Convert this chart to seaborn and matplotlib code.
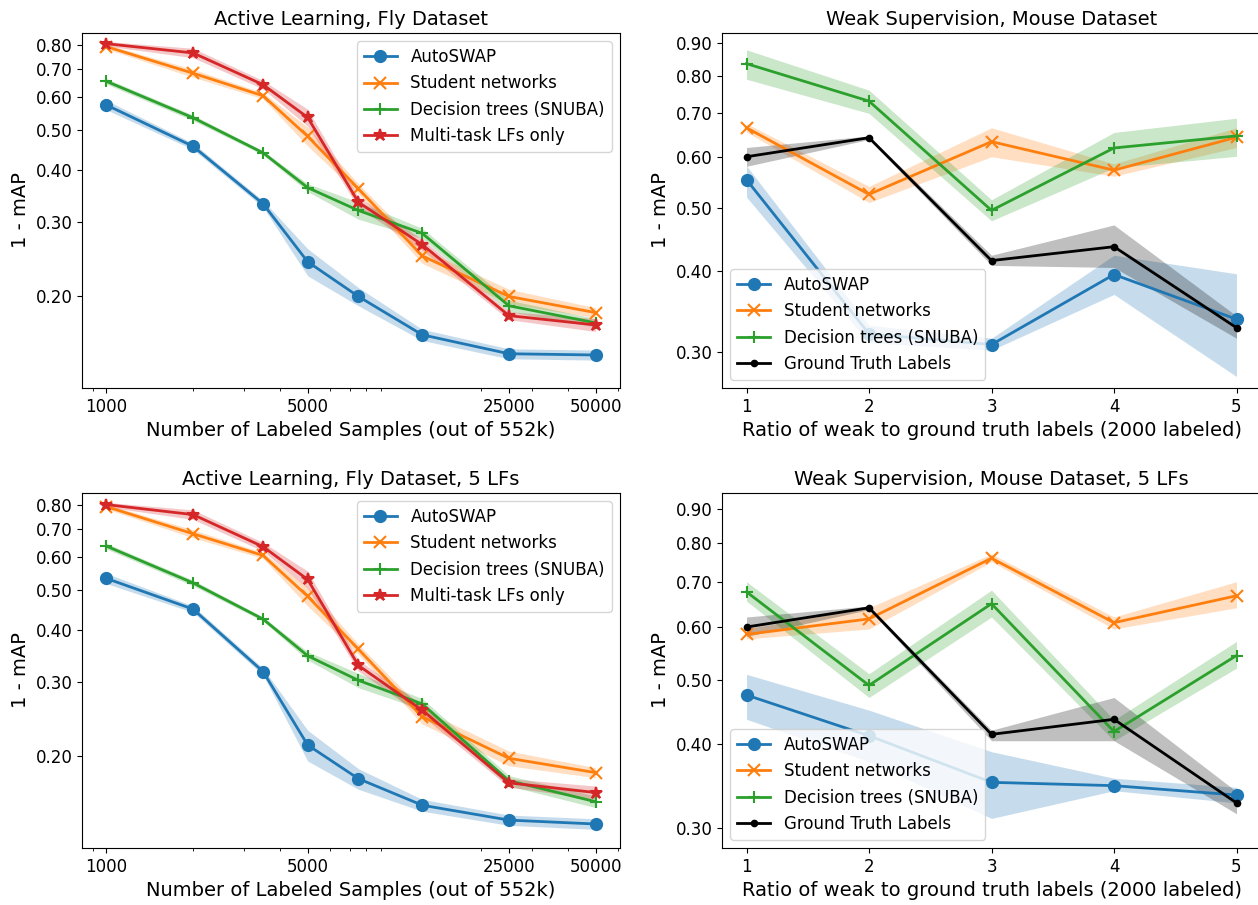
import numpy as np
import pandas as pd
import matplotlib
matplotlib.use("Agg")
import matplotlib.pyplot as plt
import matplotlib.ticker as mticker
import seaborn as sns

# x values
n_labeled = [1000, 2000, 3500, 5000, 7500, 12500, 25000, 50000]
weak_ratio = [1, 2, 3, 4, 5]

# Active learning, fly dataset (1 - mAP, band half-widths)
al_auto = [0.573, 0.456, 0.332, 0.241, 0.199, 0.161, 0.145, 0.144]
al_auto_err = [0.015, 0.008, 0.006, 0.018, 0.010, 0.005, 0.004, 0.004]
al_student = [0.791, 0.683, 0.603, 0.482, 0.361, 0.249, 0.199, 0.182]
al_student_err = [0.010, 0.015, 0.010, 0.025, 0.010, 0.010, 0.008, 0.005]
al_snuba = [0.653, 0.534, 0.440, 0.363, 0.320, 0.282, 0.189, 0.172]
al_snuba_err = [0.010, 0.008, 0.005, 0.008, 0.015, 0.008, 0.006, 0.004]
al_multi = [0.804, 0.764, 0.641, 0.535, 0.335, 0.265, 0.179, 0.170]
al_multi_err = [0.010, 0.020, 0.015, 0.025, 0.010, 0.008, 0.004, 0.006]

# Active learning, fly dataset, 5 LFs
al5_auto = [0.532, 0.449, 0.318, 0.212, 0.176, 0.152, 0.140, 0.137]
al5_auto_err = [0.015, 0.008, 0.006, 0.018, 0.010, 0.005, 0.004, 0.004]
al5_student = [0.791, 0.681, 0.604, 0.482, 0.360, 0.248, 0.197, 0.182]
al5_student_err = [0.010, 0.015, 0.010, 0.025, 0.010, 0.010, 0.008, 0.005]
al5_snuba = [0.636, 0.519, 0.425, 0.347, 0.303, 0.266, 0.174, 0.155]
al5_snuba_err = [0.010, 0.008, 0.005, 0.008, 0.012, 0.008, 0.005, 0.005]
al5_multi = [0.800, 0.757, 0.634, 0.529, 0.329, 0.257, 0.172, 0.163]
al5_multi_err = [0.010, 0.020, 0.015, 0.025, 0.010, 0.008, 0.004, 0.006]

# Weak supervision, mouse dataset (mean, lower, upper)
ws_auto = [0.553, 0.320, 0.308, 0.395, 0.337]
ws_auto_lo = [0.520, 0.310, 0.302, 0.368, 0.275]
ws_auto_hi = [0.581, 0.330, 0.315, 0.423, 0.396]
ws_student = [0.665, 0.525, 0.633, 0.572, 0.643]
ws_student_lo = [0.655, 0.510, 0.600, 0.560, 0.620]
ws_student_hi = [0.675, 0.540, 0.665, 0.585, 0.665]
ws_snuba = [0.835, 0.731, 0.496, 0.619, 0.646]
ws_snuba_lo = [0.790, 0.700, 0.478, 0.577, 0.601]
ws_snuba_hi = [0.877, 0.760, 0.515, 0.654, 0.688]
ws_gt = [0.600, 0.642, 0.415, 0.436, 0.327]
ws_gt_lo = [0.580, 0.638, 0.408, 0.405, 0.315]
ws_gt_hi = [0.620, 0.646, 0.423, 0.471, 0.341]

# Weak supervision, mouse dataset, 5 LFs
ws5_auto = [0.474, 0.412, 0.351, 0.347, 0.336]
ws5_auto_lo = [0.436, 0.377, 0.310, 0.341, 0.327]
ws5_auto_hi = [0.509, 0.450, 0.390, 0.356, 0.345]
ws5_student = [0.584, 0.616, 0.759, 0.608, 0.667]
ws5_student_lo = [0.575, 0.595, 0.750, 0.595, 0.640]
ws5_student_hi = [0.595, 0.640, 0.770, 0.620, 0.700]
ws5_snuba = [0.676, 0.490, 0.649, 0.418, 0.543]
ws5_snuba_lo = [0.655, 0.470, 0.620, 0.405, 0.520]
ws5_snuba_hi = [0.700, 0.510, 0.680, 0.435, 0.570]
ws5_gt = [0.599, 0.640, 0.414, 0.436, 0.327]
ws5_gt_lo = [0.580, 0.636, 0.405, 0.405, 0.315]
ws5_gt_hi = [0.620, 0.644, 0.420, 0.470, 0.340]

pal = sns.color_palette("tab10")
STYLES = {
    "AutoSWAP": dict(color=pal[0], marker="o", ms=8),
    "Student networks": dict(color=pal[1], marker="x", ms=8),
    "Decision trees (SNUBA)": dict(color=pal[2], marker="+", ms=9),
    "Multi-task LFs only": dict(color=pal[3], marker="*", ms=9),
    "Ground Truth Labels": dict(color="black", marker=".", ms=8),
}

W, H = 1258, 905
fig = plt.figure(figsize=(W / 100, H / 100), dpi=100)


def px_axes(left, top, width, height):
    return fig.add_axes([left / W, 1 - (top + height) / H, width / W, height / H])


def draw_series(ax, x, y, lo, hi, name):
    st = STYLES[name]
    ax.fill_between(x, lo, hi, color=st["color"], alpha=0.25, lw=0)
    sns.lineplot(x=x, y=y, ax=ax, color=st["color"], marker=st["marker"],
                 markersize=st["ms"], markeredgecolor=st["color"],
                 markeredgewidth=1.5, lw=2, label=name)


def style_y(ax, ticks, ylim):
    ax.set_yscale("log")
    ax.set_ylim(*ylim)
    ax.yaxis.set_major_locator(mticker.FixedLocator(ticks))
    ax.yaxis.set_minor_locator(mticker.NullLocator())
    ax.yaxis.set_major_formatter(mticker.FormatStrFormatter("%.2f"))
    ax.set_ylabel("1 - mAP", fontsize=14)
    ax.tick_params(labelsize=12)


def active_panel(ax, title, series):
    ax.set_xscale("log")
    for name, y, err in series:
        y = np.array(y)
        e = np.array(err)
        draw_series(ax, n_labeled, y, y - e, y + e, name)
    style_y(ax, [0.2, 0.3, 0.4, 0.5, 0.6, 0.7, 0.8], (0.12, 0.853))
    ax.set_xticks([1000, 5000, 25000, 50000])
    ax.xaxis.set_major_formatter(mticker.FormatStrFormatter("%d"))
    ax.xaxis.set_minor_formatter(mticker.NullFormatter())
    ax.set_xlabel("Number of Labeled Samples (out of 552k)", fontsize=14)
    ax.set_title(title, fontsize=14)
    ax.legend(loc="upper right", fontsize=12)


def weak_panel(ax, title, series, ylim):
    for name, y, lo, hi in series:
        draw_series(ax, weak_ratio, y, lo, hi, name)
    style_y(ax, [0.3, 0.4, 0.5, 0.6, 0.7, 0.8, 0.9], ylim)
    ax.set_xlim(0.8, 5.2)
    ax.set_xticks(weak_ratio)
    ax.set_xlabel("Ratio of weak to ground truth labels (2000 labeled)", fontsize=14)
    ax.set_title(title, fontsize=14)
    ax.legend(loc="lower left", fontsize=12)


ax_a = px_axes(82, 33, 538, 355)
ax_b = px_axes(722, 33, 539, 355)
ax_c = px_axes(82, 493, 538, 355)
ax_d = px_axes(722, 493, 539, 355)

active_panel(ax_a, "Active Learning, Fly Dataset", [
    ("AutoSWAP", al_auto, al_auto_err),
    ("Student networks", al_student, al_student_err),
    ("Decision trees (SNUBA)", al_snuba, al_snuba_err),
    ("Multi-task LFs only", al_multi, al_multi_err),
])
active_panel(ax_c, "Active Learning, Fly Dataset, 5 LFs", [
    ("AutoSWAP", al5_auto, al5_auto_err),
    ("Student networks", al5_student, al5_student_err),
    ("Decision trees (SNUBA)", al5_snuba, al5_snuba_err),
    ("Multi-task LFs only", al5_multi, al5_multi_err),
])
weak_panel(ax_b, "Weak Supervision, Mouse Dataset", [
    ("AutoSWAP", ws_auto, ws_auto_lo, ws_auto_hi),
    ("Student networks", ws_student, ws_student_lo, ws_student_hi),
    ("Decision trees (SNUBA)", ws_snuba, ws_snuba_lo, ws_snuba_hi),
    ("Ground Truth Labels", ws_gt, ws_gt_lo, ws_gt_hi),
], (0.264, 0.931))
weak_panel(ax_d, "Weak Supervision, Mouse Dataset, 5 LFs", [
    ("AutoSWAP", ws5_auto, ws5_auto_lo, ws5_auto_hi),
    ("Student networks", ws5_student, ws5_student_lo, ws5_student_hi),
    ("Decision trees (SNUBA)", ws5_snuba, ws5_snuba_lo, ws5_snuba_hi),
    ("Ground Truth Labels", ws5_gt, ws5_gt_lo, ws5_gt_hi),
], (0.28, 0.95))

fig.savefig("out.png", dpi=100)
